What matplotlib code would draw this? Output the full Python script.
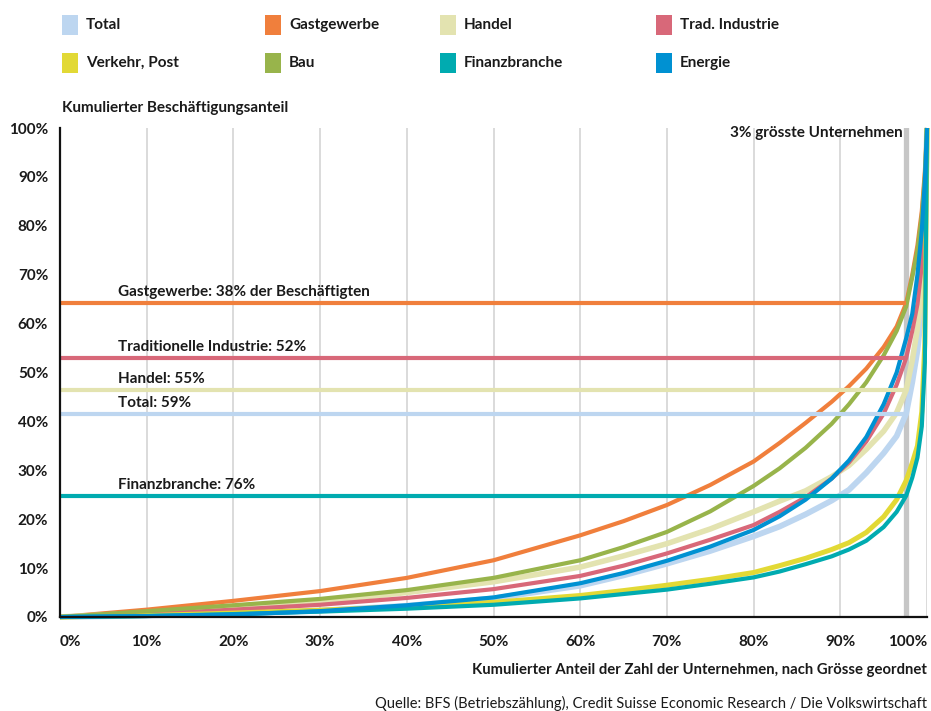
import matplotlib
matplotlib.use("Agg")
import matplotlib.pyplot as plt
from matplotlib.patches import Rectangle

plt.rcParams['font.family'] = ['Lato', 'DejaVu Sans']

W, H = 931, 711

# cumulative share of firms (x, %) and of employment (y, %)
firm_share = [0, 10, 20, 30, 40, 50, 60, 65, 70, 75, 80, 83, 86, 89, 91, 93, 95, 96.5,
              97.6, 98.3, 98.9, 99.4, 99.75, 100]

total = [0, 0.3, 0.7, 1.3, 2.3, 3.8, 6.4, 8.5, 10.9, 13.5, 16.5, 18.5, 21.0, 23.8, 26.0,
         29.5, 33.5, 37.0, 41.6, 48, 54.5, 63, 76, 100]
gastgewerbe = [0, 1.5, 3.3, 5.3, 8.0, 11.6, 16.7, 19.6, 22.9, 27.0, 31.8, 35.6, 39.7, 44.0,
               47.2, 50.8, 55.2, 59.4, 64.2, 70, 76, 83, 91, 100]
handel = [0, 0.8, 1.9, 3.2, 5.0, 7.2, 10.2, 12.5, 15.0, 18.0, 21.5, 23.7, 25.8, 28.7, 31.0,
          34.3, 38.0, 41.8, 46.4, 52.5, 59, 67, 78, 100]
trad_industrie = [0, 0.6, 1.5, 2.5, 3.9, 5.7, 8.4, 10.5, 13.0, 15.8, 18.8, 21.5, 24.5, 28.3,
                  31.6, 35.9, 41.6, 47.5, 53.0, 58.5, 64, 72, 83, 100]
verkehr_post = [0, 0.3, 0.8, 1.4, 2.1, 3.0, 4.4, 5.4, 6.5, 7.7, 9.1, 10.5, 12.0, 13.8, 15.2,
                17.3, 20.5, 24.0, 27.9, 31.5, 35, 42, 56, 100]
bau = [0, 1.2, 2.4, 3.7, 5.5, 8.0, 11.6, 14.3, 17.4, 21.6, 26.8, 30.4, 34.6, 39.5, 43.5,
       48.0, 53.5, 58.5, 63.5, 69.5, 75, 82, 90, 100]
finanz = [0, 0.2, 0.6, 1.1, 1.7, 2.5, 3.8, 4.7, 5.6, 6.8, 8.1, 9.3, 10.8, 12.4, 13.8,
          15.6, 18.4, 21.5, 24.8, 28.5, 32.6, 39, 52, 100]
energie = [0, 0.2, 0.5, 1.2, 2.4, 4.0, 6.9, 9.0, 11.5, 14.4, 17.8, 20.6, 24.0, 28.3, 32.0,
           36.8, 43.5, 50.0, 57.0, 62, 70, 79, 89, 100]

names = ["Total", "Gastgewerbe", "Handel", "Trad. Industrie",
         "Verkehr, Post", "Bau", "Finanzbranche", "Energie"]
series = [total, gastgewerbe, handel, trad_industrie, verkehr_post, bau, finanz, energie]
colors = ["#bdd6f0", "#f07f3c", "#e3e3b0", "#d86879",
          "#e2d935", "#98b44b", "#00abb0", "#0091d2"]
widths = [4.2, 3.0, 4.0, 3.0, 3.6, 3.0, 3.0, 3.0]

# employment share of all but the largest firms
cutoff = 97.6
ref_labels = ["Gastgewerbe: 38% der Beschäftigten", "Traditionelle Industrie: 52%",
              "Handel: 55%", "Total: 59%", "Finanzbranche: 76%"]
ref_values = [64.2, 53.0, 46.4, 41.6, 24.8]
ref_colors = ["#f07f3c", "#d86879", "#e3e3b0", "#bdd6f0", "#00abb0"]

x_ticks = list(range(0, 101, 10))
y_ticks = list(range(0, 101, 10))

fig = plt.figure(figsize=(W / 100, H / 100), dpi=100)
ax = fig.add_axes([60 / W, 1 - 617 / H, 867 / W, 489 / H])

ax.set_xlim(0, 100)
ax.set_ylim(0, 100)

for xv in range(10, 101, 10):
    ax.axvline(xv, color="#d4d4d4", lw=1.2, zorder=0)
ax.axvline(cutoff, color="#c6c6c6", lw=3.8, zorder=1)

for ys, c, lw in zip(series, colors, widths):
    ax.plot(firm_share, ys, color=c, lw=lw, solid_capstyle="butt", solid_joinstyle="round",
            zorder=2, clip_on=False)

for lab, v, c in zip(ref_labels, ref_values, ref_colors):
    ax.plot([0, cutoff], [v, v], color=c, lw=3.0, solid_capstyle="butt", zorder=3)
    ax.text(6.7, v + 2.2, lab, fontsize=11, fontweight="bold", color="#1a1a1a",
            va="center", ha="left")

ax.text(cutoff - 0.4, 99, "3% grösste Unternehmen", fontsize=11, fontweight="bold",
        color="#1a1a1a", ha="right", va="center")

for s in ["top", "right"]:
    ax.spines[s].set_visible(False)
for s in ["left", "bottom"]:
    ax.spines[s].set_linewidth(1.6)
    ax.spines[s].set_color("#111111")
    ax.spines[s].set_zorder(5)

ax.set_xticks(x_ticks)
ax.set_xticklabels([f"{t}%" for t in x_ticks])
ax.set_yticks(y_ticks)
ax.set_yticklabels([f"{t}%" for t in y_ticks])
ax.tick_params(length=0, labelsize=11)
ax.tick_params(axis="y", pad=8.5)
ax.tick_params(axis="x", pad=13)
for lab in ax.get_xticklabels() + ax.get_yticklabels():
    lab.set_fontweight("bold")
    lab.set_color("#1a1a1a")
xl = ax.get_xticklabels()
xl[0].set_ha("left")
xl[-1].set_ha("right")

# legend
legend_x = [62, 265, 440, 656]
legend_y = [25, 63]
for i, (n, c) in enumerate(zip(names, colors)):
    px = legend_x[i % 4]
    py = legend_y[i // 4]
    fig.add_artist(Rectangle((px / W, 1 - (py + 10) / H), 16 / W, 20 / H,
                             transform=fig.transFigure, color=c, lw=0))
    fig.text((px + 24) / W, 1 - py / H, n, fontsize=11, fontweight="bold",
             color="#1a1a1a", va="center", ha="left")

fig.text(62 / W, 1 - 108 / H, "Kumulierter Beschäftigungsanteil", fontsize=11,
         fontweight="bold", color="#1a1a1a", va="center", ha="left")
fig.text(927 / W, 1 - 670 / H, "Kumulierter Anteil der Zahl der Unternehmen, nach Grösse geordnet",
         fontsize=10.7, fontweight="bold", color="#1a1a1a", va="center", ha="right")
fig.text(927 / W, 1 - 703 / H,
         "Quelle: BFS (Betriebszählung), Credit Suisse Economic Research / Die Volkswirtschaft",
         fontsize=10.5, color="#1a1a1a", va="center", ha="right")

fig.savefig("out.png", dpi=100)
